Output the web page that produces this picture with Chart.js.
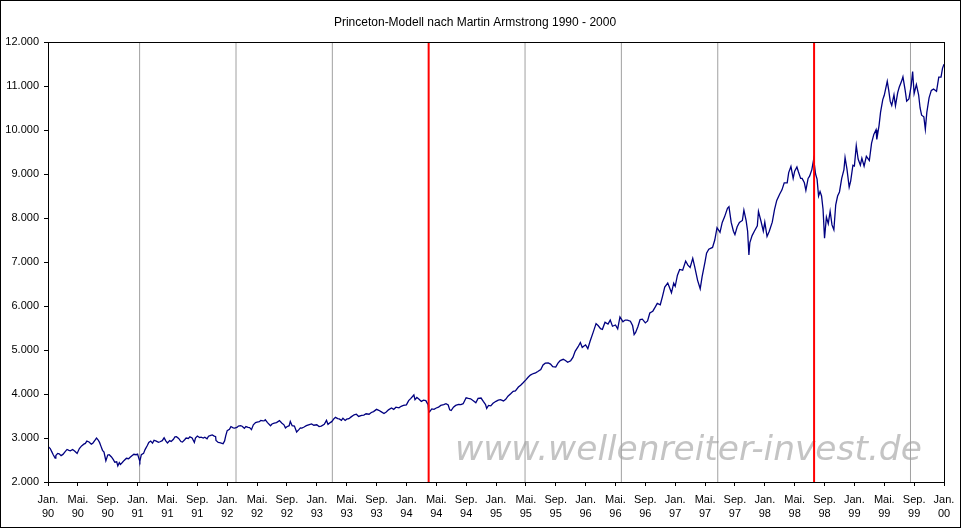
<!DOCTYPE html>
<html>
<head>
<meta charset="utf-8">
<script src="https://cdn.jsdelivr.net/npm/chart.js@4"></script>
<style>
  html, body { margin: 0; padding: 0; background: #fff; }
  #wrap { width: 962px; height: 529px; }
</style>
</head>
<body>
<div id="wrap"><canvas id="chart" width="962" height="529"></canvas></div>
<script>
// Dow Jones daily closes, [months since Jan. 1990, value]
const dj1990 = [[0,2810],[0.3,2760],[0.5,2690],[0.7,2620],[0.95,2545],[1.05,2600],[1.3,2650],[1.5,2640],[1.75,2600],[2.0,2627],[2.3,2690],[2.55,2740],[2.8,2720],[3.0,2707],[3.3,2740],[3.6,2700],[3.9,2650],[4.2,2760],[4.5,2820],[4.8,2860],[5.0,2877],[5.2,2930],[5.5,2910],[5.8,2860],[6.0,2881],[6.3,2950],[6.5,2999],[6.7,2960],[6.9,2900],[7.1,2810],[7.3,2720],[7.5,2680],[7.75,2483],[7.9,2560],[8.0,2614],[8.2,2620],[8.5,2570],[8.75,2510],[8.95,2450],[9.2,2460],[9.35,2365],[9.55,2440],[9.7,2400],[9.95,2442],[10.2,2490],[10.5,2540],[10.8,2530],[11.0,2560],[11.2,2590],[11.5,2630],[11.8,2620]];
const dj1991 = [[12.0,2634],[12.2,2520],[12.3,2470],[12.5,2620],[12.8,2650],[13.0,2736],[13.3,2830],[13.5,2900],[13.75,2930],[14.0,2882],[14.2,2950],[14.5,2930],[14.8,2900],[15.0,2914],[15.3,2940],[15.55,3004],[15.8,2930],[16.0,2888],[16.3,2940],[16.5,2920],[16.8,2970],[17.0,3028],[17.2,3030],[17.5,2990],[17.8,2920],[18.0,2907],[18.3,2960],[18.5,3000],[18.8,2990],[19.0,3025],[19.3,3000],[19.6,2898],[19.75,3000],[20.0,3044],[20.3,3010],[20.5,3020],[20.8,3000],[21.0,3017],[21.3,2980],[21.5,3040],[21.8,3060],[22.0,3069],[22.2,3050],[22.45,3030],[22.5,2943],[22.8,2900],[23.0,2895],[23.3,2880],[23.45,2870],[23.65,2934],[23.8,3050]];
const dj1992 = [[24.0,3168],[24.3,3200],[24.5,3260],[24.8,3230],[25.0,3223],[25.3,3240],[25.5,3270],[25.8,3280],[26.0,3268],[26.3,3220],[26.5,3260],[26.8,3240],[27.0,3236],[27.25,3190],[27.5,3300],[27.8,3350],[28.0,3359],[28.3,3370],[28.5,3400],[28.8,3390],[29.0,3397],[29.1,3413],[29.4,3350],[29.8,3280],[30.0,3319],[30.3,3340],[30.6,3350],[31.0,3394],[31.3,3340],[31.6,3300],[31.8,3230],[32.0,3257],[32.3,3280],[32.45,3376],[32.7,3280],[33.0,3272],[33.3,3136],[33.6,3190],[33.8,3230],[34.0,3226],[34.3,3250],[34.6,3280],[35.0,3306],[35.3,3320],[35.6,3290]];
const dj1993 = [[36.0,3301],[36.3,3260],[36.6,3270],[37.0,3310],[37.3,3400],[37.5,3310],[37.8,3350],[38.0,3371],[38.3,3440],[38.5,3470],[38.8,3440],[39.0,3435],[39.3,3400],[39.5,3450],[39.8,3400],[40.0,3428],[40.3,3440],[40.6,3480],[41.0,3527],[41.3,3540],[41.6,3490],[42.0,3516],[42.3,3520],[42.6,3550],[43.0,3540],[43.3,3580],[43.6,3600],[44.0,3651],[44.3,3630],[44.6,3600],[45.0,3555],[45.3,3590],[45.6,3640],[46.0,3681],[46.3,3650],[46.6,3700],[47.0,3684],[47.3,3720],[47.6,3740]];
const dj1994 = [[48.0,3754],[48.3,3850],[48.6,3900],[49.0,3978],[49.15,3870],[49.4,3920],[49.7,3880],[50.0,3832],[50.3,3860],[50.6,3850],[50.9,3760],[50.95,3700],[51.0,3626],[51.1,3594],[51.4,3660],[51.7,3650],[52.0,3682],[52.3,3700],[52.6,3740],[53.0,3758],[53.3,3780],[53.6,3750],[53.8,3640],[54.0,3625],[54.3,3700],[54.6,3740],[55.0,3765],[55.3,3760],[55.6,3780],[56.0,3913],[56.3,3900],[56.6,3890],[57.0,3843],[57.3,3800],[57.6,3900],[58.0,3908],[58.3,3830],[58.6,3760],[58.75,3674],[59.0,3739],[59.3,3730],[59.6,3790]];
const dj1995 = [[60.0,3834],[60.3,3860],[60.6,3870],[61.0,3843],[61.3,3880],[61.6,3950],[62.0,4011],[62.3,4060],[62.6,4070],[63.0,4158],[63.3,4200],[63.6,4250],[64.0,4321],[64.3,4380],[64.6,4430],[65.0,4465],[65.3,4480],[65.6,4510],[66.0,4556],[66.3,4660],[66.6,4700],[67.0,4708],[67.3,4680],[67.6,4620],[68.0,4611],[68.3,4700],[68.6,4760],[69.0,4789],[69.3,4760],[69.6,4720],[70.0,4756],[70.3,4830],[70.6,4970],[71.0,5075],[71.3,5170],[71.55,5060]];
const dj1996 = [[72.0,5117],[72.3,5032],[72.6,5200],[73.0,5395],[73.4,5600],[73.7,5550],[74.0,5485],[74.25,5470],[74.6,5630],[75.0,5587],[75.3,5680],[75.6,5540],[76.0,5569],[76.3,5480],[76.6,5750],[77.0,5643],[77.3,5680],[77.6,5680],[78.0,5654],[78.3,5550],[78.5,5350],[78.7,5400],[79.0,5529],[79.3,5690],[79.6,5700],[80.0,5616],[80.3,5660],[80.6,5840],[81.0,5882],[81.3,5970],[81.6,6060],[82.0,6029],[82.3,6220],[82.6,6430],[83.0,6522],[83.2,6437],[83.5,6300],[83.8,6520]];
const dj1997 = [[84.0,6448],[84.3,6700],[84.6,6830],[85.0,6813],[85.4,7022],[85.7,6930],[86.0,6877],[86.35,7085],[86.6,6900],[87.0,6583],[87.35,6391],[87.6,6660],[88.0,7009],[88.2,7200],[88.5,7290],[89.0,7331],[89.3,7500],[89.6,7780],[90.0,7672],[90.3,7900],[90.6,8020],[91.0,8222],[91.2,8259],[91.5,7900],[91.8,7700],[92.0,7622],[92.3,7800],[92.6,7900],[93.0,7945],[93.2,8178],[93.5,7940],[93.7,7700],[93.87,7161],[94.0,7442],[94.3,7600],[94.6,7700],[95.0,7823],[95.15,8149],[95.5,7920],[95.8,7700]];
const dj1998 = [[96.0,7908],[96.3,7580],[96.6,7700],[97.0,7906],[97.3,8190],[97.6,8400],[98.0,8546],[98.3,8640],[98.6,8800],[99.0,8800],[99.2,9033],[99.5,9170],[99.8,8900],[100.0,9063],[100.3,9160],[100.5,9050],[100.8,8900],[101.0,8900],[101.3,8800],[101.5,8627],[101.8,8900],[102.0,8952],[102.3,9100],[102.55,9338],[102.8,9000],[103.0,8883],[103.2,8500],[103.4,8600],[103.6,8500],[103.8,8200],[104.0,7539],[104.25,8020],[104.5,7870],[104.75,8154],[105.0,7843],[105.25,7731],[105.5,8300],[105.75,8500],[106.0,8592],[106.3,8900],[106.6,9100],[106.75,9374],[107.0,9117],[107.3,8700],[107.5,8840],[107.8,9200]];
const dj1999 = [[108.0,9181],[108.25,9643],[108.5,9340],[108.8,9200],[109.0,9359],[109.3,9180],[109.6,9400],[110.0,9307],[110.3,9700],[110.6,9900],[110.9,10006],[111.0,9786],[111.3,10100],[111.5,10400],[111.8,10690],[112.0,10789],[112.4,11107],[112.6,10900],[112.8,10650],[113.0,10560],[113.3,10800],[113.5,10550],[113.8,10850],[114.0,10971],[114.3,11100],[114.5,11209],[114.8,10900],[115.0,10655],[115.3,10707],[115.6,11000],[115.8,11326],[116.0,10829],[116.3,11030],[116.6,10800],[116.8,10500],[117.0,10337],[117.3,10300],[117.5,10019],[117.7,10400],[118.0,10729],[118.3,10900],[118.6,10930],[119.0,10878],[119.3,11200],[119.6,11200],[119.8,11400],[120.0,11497]];

// Princeton-Modell turning points (months since Jan. 1990)
const cycleGray = [12.27, 25.18, 38.08, 63.89, 76.79, 89.70, 115.51];
const cycleRed = [50.98, 102.6];

// Axis labels
const monthNames = ['Jan.', 'Mai.', 'Sep.'];
const yearLabels = ['90', '91', '92', '93', '94', '95', '96', '97', '98', '99', '00'];
const yMin = 2000, yMax = 12000, yStep = 1000;

const chartTitle = 'Princeton-Modell nach Martin Armstrong 1990 - 2000';
const watermark = 'www.wellenreiter-invest.de';

const FONT = '"Liberation Sans", Arial, sans-serif';

const dowData = [].concat(dj1990, dj1991, dj1992, dj1993, dj1994, dj1995, dj1996, dj1997, dj1998, dj1999)
    .map(p => ({ x: p[0], y: p[1] }));

function cycleDataset(t, color, width, order) {
    return {
        data: [{ x: t, y: yMin }, { x: t, y: yMax }],
        borderColor: color,
        borderWidth: width,
        pointRadius: 0,
        order: order
    };
}

const datasets = [
    {
        label: 'Dow Jones',
        data: dowData,
        borderColor: '#000080',
        borderWidth: 1.3,
        pointRadius: 0,
        tension: 0,
        order: 1
    },
    ...cycleGray.map(t => cycleDataset(t, '#a0a0a0', 1, 2)),
    ...cycleRed.map(t => cycleDataset(t, '#ff0000', 2, 0))
];

// Title, watermark and frames
const decorations = {
    id: 'decorations',
    beforeDatasetsDraw(chart) {
        const ctx = chart.ctx;
        ctx.save();
        let size = 31;
        ctx.font = 'oblique ' + size + 'px "DejaVu Sans", Verdana, sans-serif';
        const w = ctx.measureText(watermark).width;
        size = size * 467 / w;
        ctx.font = 'oblique ' + size + 'px "DejaVu Sans", Verdana, sans-serif';
        ctx.fillStyle = '#c4c4c4';
        ctx.textAlign = 'left';
        ctx.textBaseline = 'alphabetic';
        ctx.fillText(watermark, 455, 460);
        ctx.restore();
    },
    afterDraw(chart) {
        const ctx = chart.ctx;
        const a = chart.chartArea;
        ctx.save();
        ctx.strokeStyle = '#000';
        ctx.lineWidth = 1;
        ctx.strokeRect(Math.round(a.left) + 0.5, Math.round(a.top) + 0.5,
            Math.round(a.right - a.left), Math.round(a.bottom - a.top));
        ctx.strokeRect(0.5, 0.5, 960, 527);
        ctx.fillStyle = '#000';
        ctx.font = '12px ' + FONT;
        ctx.textAlign = 'center';
        ctx.textBaseline = 'middle';
        ctx.fillText(chartTitle, 475, 23);
        ctx.restore();
    }
};

new Chart(document.getElementById('chart'), {
    type: 'line',
    data: { datasets: datasets },
    options: {
        responsive: false,
        animation: false,
        devicePixelRatio: 1,
        layout: { padding: { left: 0, right: 18, top: 42, bottom: 0 } },
        plugins: {
            legend: { display: false },
            tooltip: { enabled: false },
            title: { display: false }
        },
        scales: {
            x: {
                type: 'linear',
                min: 0,
                max: 120,
                afterFit(scale) { scale.height = 47; },
                afterBuildTicks(scale) {
                    scale.ticks = [];
                    for (let m = 0; m <= 120; m += 4) scale.ticks.push({ value: m });
                },
                grid: { display: true, drawOnChartArea: false, drawTicks: true, tickLength: 4, color: '#000' },
                border: { display: true, color: '#000' },
                ticks: {
                    autoSkip: false,
                    maxRotation: 0,
                    padding: 7,
                    color: '#000',
                    font: { family: FONT, size: 11, lineHeight: 1.3 },
                    callback: v => [monthNames[(v / 4) % 3], yearLabels[Math.floor(v / 12)]]
                }
            },
            y: {
                min: yMin,
                max: yMax,
                afterFit(scale) { scale.width = 48; },
                grid: { display: true, drawOnChartArea: false, drawTicks: true, tickLength: 4, color: '#000' },
                border: { display: true, color: '#000' },
                ticks: {
                    stepSize: yStep,
                    padding: 5,
                    color: '#000',
                    font: { family: FONT, size: 11 },
                    callback: v => (v / 1000) + '.000'
                }
            }
        }
    },
    plugins: [decorations]
});
</script>
</body>
</html>
